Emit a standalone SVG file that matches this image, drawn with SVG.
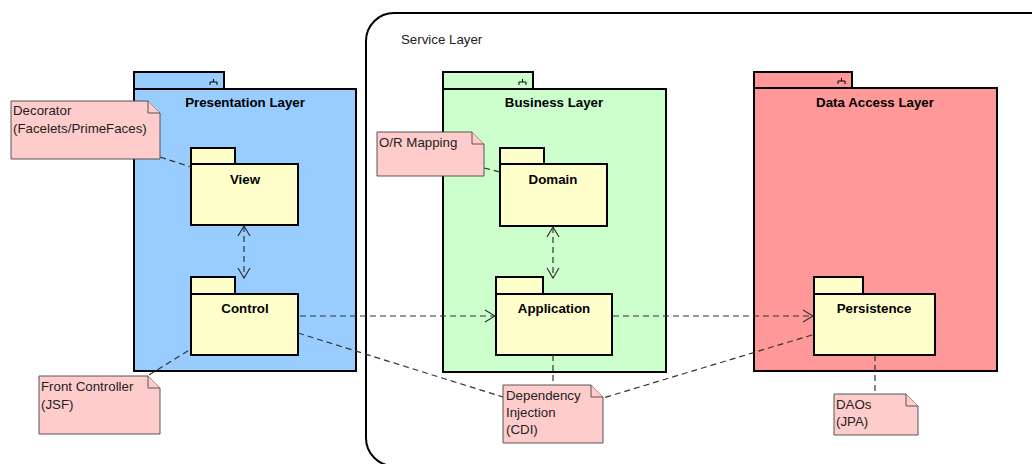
<svg xmlns="http://www.w3.org/2000/svg" width="1032" height="464" viewBox="0 0 1032 464">
<defs>
<style>
.pkg{stroke:#000;stroke-width:2}
.sub{fill:#FFFFCC;stroke:#000;stroke-width:2}
.note{fill:#FFCCCC;stroke:#555;stroke-width:1}
.ttl{font-family:"Liberation Sans",Arial,sans-serif;font-size:13.3px;font-weight:bold;fill:#000;text-anchor:middle}
.txt{font-family:"Liberation Sans",Arial,sans-serif;font-size:13.3px;fill:#222}
.dash{fill:none;stroke:#333;stroke-width:1.2;stroke-dasharray:6 4}
.icon{fill:none;stroke:#000;stroke-width:1}
</style>
<marker id="open" viewBox="0 0 12 14" refX="11" refY="7" markerWidth="12" markerHeight="14" markerUnits="userSpaceOnUse" orient="auto-start-reverse">
<path d="M1 1 L11 7 L1 13" fill="none" stroke="#333" stroke-width="1.2"/>
</marker>
</defs>
<rect width="1032" height="464" fill="#fff"/>

<g id="service-layer">
<rect x="366" y="13" width="720" height="453" rx="28" ry="28" fill="none" stroke="#000" stroke-width="2"/>
<text class="txt" x="401" y="44">Service Layer</text>
</g>

<g id="presentation-layer">
<rect class="pkg" x="134" y="72" width="90" height="17" fill="#99CCFF"/>
<rect class="pkg" x="134" y="89" width="222" height="282" fill="#99CCFF"/>
<path class="icon" d="M213.5 79V82M210 85V82H217V85"/>
<text class="ttl" x="245" y="107">Presentation Layer</text>
</g>

<g id="view">
<rect class="sub" x="191" y="148" width="44" height="16"/>
<rect class="sub" x="191" y="164" width="107" height="61"/>
<text class="ttl" x="245" y="184">View</text>
</g>

<g id="control">
<rect class="sub" x="191" y="277" width="44" height="17"/>
<rect class="sub" x="191" y="294" width="107" height="61"/>
<text class="ttl" x="245" y="313">Control</text>
</g>

<g id="business-layer">
<rect class="pkg" x="443" y="72" width="90" height="17" fill="#CCFFCC"/>
<rect class="pkg" x="443" y="89" width="223" height="283" fill="#CCFFCC"/>
<path class="icon" d="M522.5 79V82M519 85V82H526V85"/>
<text class="ttl" x="554" y="107">Business Layer</text>
</g>

<g id="domain">
<rect class="sub" x="500" y="148" width="44" height="16"/>
<rect class="sub" x="500" y="164" width="107" height="62"/>
<text class="ttl" x="553" y="184">Domain</text>
</g>

<g id="application">
<rect class="sub" x="496" y="277" width="47" height="17"/>
<rect class="sub" x="496" y="294" width="116" height="61"/>
<text class="ttl" x="554" y="313">Application</text>
</g>

<g id="data-access-layer">
<rect class="pkg" x="754" y="72" width="98" height="16" fill="#FF9999"/>
<rect class="pkg" x="754" y="88" width="243" height="283" fill="#FF9999"/>
<path class="icon" d="M841.5 78V81M838 84V81H845V84"/>
<text class="ttl" x="875" y="107">Data Access Layer</text>
</g>

<g id="persistence">
<rect class="sub" x="814" y="277" width="49" height="17"/>
<rect class="sub" x="814" y="294" width="121" height="61"/>
<text class="ttl" x="874" y="313">Persistence</text>
</g>

<g id="connectors">
<line class="dash" x1="244" y1="226" x2="244" y2="278" marker-start="url(#open)" marker-end="url(#open)"/>
<line class="dash" x1="553" y1="227" x2="553" y2="278" marker-start="url(#open)" marker-end="url(#open)"/>
<line class="dash" x1="300" y1="316" x2="495" y2="316" marker-end="url(#open)"/>
<line class="dash" x1="613" y1="316" x2="813" y2="316" marker-end="url(#open)"/>
<line class="dash" x1="298" y1="333" x2="503" y2="397"/>
<line class="dash" x1="553" y1="355" x2="553" y2="385"/>
<line class="dash" x1="812" y1="335" x2="603" y2="398"/>
<line class="dash" x1="875" y1="355" x2="875" y2="394"/>
<line class="dash" x1="160" y1="157" x2="191" y2="167"/>
<line class="dash" x1="484" y1="168" x2="500" y2="172"/>
<line class="dash" x1="149" y1="375" x2="191" y2="349"/>
</g>

<g id="note-decorator">
<path class="note" d="M11 101H148L160 113V159H11Z"/>
<path class="note" d="M148 101V113H160" fill="none"/>
<text class="txt" x="13" y="115">Decorator</text>
<text class="txt" x="13" y="133">(Facelets/PrimeFaces)</text>
</g>

<g id="note-front-controller">
<path class="note" d="M39 376H148L160 388V434H39Z"/>
<path class="note" d="M148 376V388H160" fill="none"/>
<text class="txt" x="41" y="391">Front Controller</text>
<text class="txt" x="41" y="409">(JSF)</text>
</g>

<g id="note-or-mapping">
<path class="note" d="M377 132H472L484 144V176H377Z"/>
<path class="note" d="M472 132V144H484" fill="none"/>
<text class="txt" x="379" y="147">O/R Mapping</text>
</g>

<g id="note-dependency-injection">
<path class="note" d="M503 385H591L603 397V443H503Z"/>
<path class="note" d="M591 385V397H603" fill="none"/>
<text class="txt" x="506" y="400">Dependency</text>
<text class="txt" x="506" y="417">Injection</text>
<text class="txt" x="506" y="434">(CDI)</text>
</g>

<g id="note-daos">
<path class="note" d="M834 394H906L918 406V435H834Z"/>
<path class="note" d="M906 394V406H918" fill="none"/>
<text class="txt" x="836" y="409">DAOs</text>
<text class="txt" x="836" y="426">(JPA)</text>
</g>
</svg>
